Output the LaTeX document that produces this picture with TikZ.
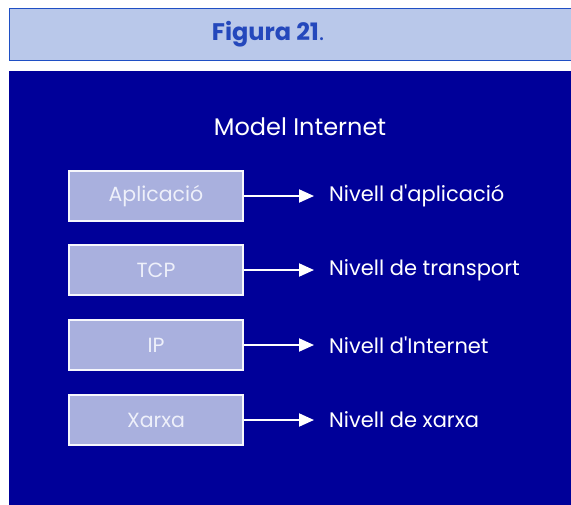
\documentclass[tikz,border=0pt]{standalone}
\usepackage{fontspec}
\setmainfont{Poppins}
\usepackage{tikz}
\usetikzlibrary{positioning}
\usetikzlibrary{arrows.meta}
\definecolor{headfill}{HTML}{B9C8EA}
\definecolor{headline}{HTML}{1F4FC4}
\definecolor{headtext}{HTML}{2448BC}
\definecolor{panel}{HTML}{000099}
\definecolor{layerfill}{HTML}{A9B0DE}
\definecolor{layertext}{HTML}{EEF0FA}

\begin{document}
\begin{tikzpicture}[x=1pt, y=-1pt]

\useasboundingbox (0,0) rectangle (571,504);

\node at (9,8) [rectangle, draw=headline, line width=1pt, fill=headfill, minimum height = 52pt, minimum width = 566pt, anchor=north west] (head) {};
\node at (268,34) [text=headtext, font=\fontsize{24}{28}\selectfont] (title) {\textbf{Figura 21}.};

\node at (9,71) [rectangle, fill=panel, minimum height = 436pt, minimum width = 566pt, anchor=north west, inner sep=0pt] (panel) {};
\node at (300,127) [text=white, font=\fontsize{24}{28}\selectfont] (model) {Model Internet};

\tikzset{layer/.style={rectangle, draw=white!90!layerfill, line width=1.6pt, fill=layerfill, text=layertext, minimum height = 50pt, minimum width = 174pt, font=\fontsize{20.5}{24}\selectfont}}
\tikzset{level/.style={right, text=white, inner sep=0pt, font=\fontsize{21}{24}\selectfont}}

\node at (156,196) [layer] (app) {Aplicació};
\node at (156,270) [layer] (tcp) {TCP};
\node at (156,345) [layer] (ip) {IP};
\node at (156,420) [layer] (net) {Xarxa};

\node at (329,196) [level] (lapp) {Nivell d\textquotesingle aplicació};
\node at (329,270) [level] (ltcp) {Nivell de transport};
\node at (329,345) [level] (lip) {Nivell d\textquotesingle Internet};
\node at (329,420) [level] (lnet) {Nivell de xarxa};

\begin{scope}[>={Triangle[length=15pt, width=13pt]}]
	\draw [white, line width=2pt, ->] (app.east) -- ([xshift=-15pt]lapp.west) ;
	\draw [white, line width=2pt, ->] (tcp.east) -- ([xshift=-15pt]ltcp.west) ;
	\draw [white, line width=2pt, ->] (ip.east) -- ([xshift=-15pt]lip.west) ;
	\draw [white, line width=2pt, ->] (net.east) -- ([xshift=-15pt]lnet.west) ;
\end{scope}

\end{tikzpicture}
\end{document}
